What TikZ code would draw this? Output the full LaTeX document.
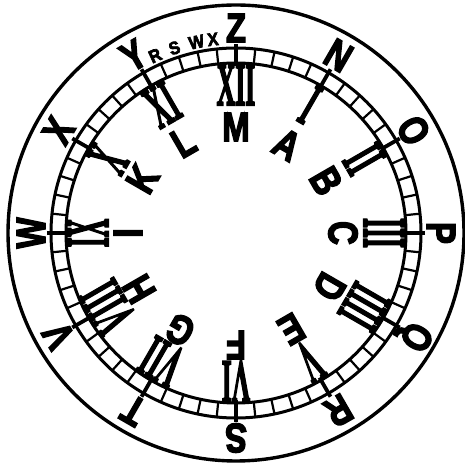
\documentclass[tikz,border=0pt]{standalone}
\usepackage{fontspec}
\setmainfont{Liberation Sans}
\newfontfamily\heavy{Liberation Sans}[BoldFeatures={FakeBold=4}]
\newfontfamily\numfont{Liberation Serif}[BoldFeatures={FakeBold=4}]
\begin{document}
\begin{tikzpicture}[x=1pt,y=1pt,
  ring/.style={line width=3pt},
  minortick/.style={line width=2.2pt},
  hourtick/.style={line width=3.8pt},
  bigletter/.style={inner sep=0pt, font=\heavy\fontsize{41}{41}\selectfont\bfseries},
  smallletter/.style={inner sep=0pt, font=\heavy\fontsize{18}{18}\selectfont\bfseries},
  numeral/.style={inner sep=0pt, font=\numfont\fontsize{61}{61}\selectfont\bfseries}]
\useasboundingbox (0,0) rectangle (465,465);
\begin{scope}[shift={(236,232)}]
\coordinate (c) at (0,0);
\draw[line width=3.4pt] (c) circle (228);
\draw[ring] (c) circle (185);
\draw[ring] (c) circle (170);
\foreach \k in {0,...,59} { \draw[minortick] (\k*6:170) -- (\k*6:185); }
\foreach \k in {0,...,11} { \draw[hourtick] (\k*30:167) -- (\k*30:189); }
% outer letters
\foreach \ltr/\a/\n in {Z/90/z, N/60/n, O/30/o, P/0/p, Q/-30/q, R/-60/r, S/-90/s, T/-120/t, V/-150/v, W/180/w, X/150/x, Y/120/y}
  \node[bigletter, rotate=\a-90] (out-\n) at (\a:205) {\scalebox{0.8}[1]{\ltr}};
% small letters
\foreach \ltr/\a/\n in {R/114.5/r, S/108.4/s, W/101.7/w, X/96.8/x}
  \node[smallletter, rotate=\a-90] (small-\n) at (\a:195) {\scalebox{0.9}[1]{\ltr}};
% roman numerals
\foreach \ltr/\a/\n in {XII/90/12, I/60/1, II/30/2, III/0/3, IIII/-30/4, V/-60/5, VI/-90/6, VII/-120/7, VIII/-150/8, IX/180/9, X/150/10, XI/120/11}
  \node[numeral, rotate=\a-90] (num-\n) at (\a:148) {\scalebox{0.42}[1]{\ltr}};
% inner letters
\foreach \ltr/\a/\r in {M/90/106, A/60/102, B/30/104, C/0/107, D/-30/108, E/-60/111, F/-90/112, G/-120/112, H/-150/112, I/180/108, K/150/108, L/120/105}
  \node[bigletter, rotate=\a-90] (in-\ltr) at (\a:\r) {\scalebox{0.8}[1]{\ltr}};
\end{scope}
\end{tikzpicture}
\end{document}
